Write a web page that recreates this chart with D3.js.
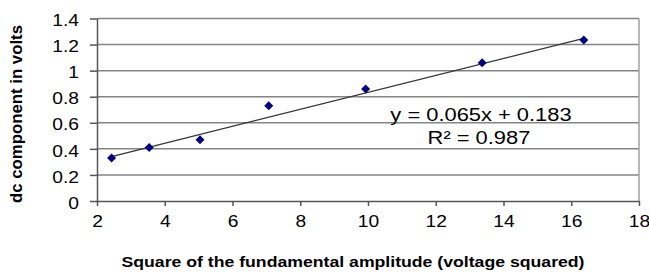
<!DOCTYPE html>
<html>
<head>
<meta charset="utf-8">
<script src="https://cdn.jsdelivr.net/npm/d3@7"></script>
<style>
  body { margin: 0; background: #fff; }
  text { font-family: Arial, "Liberation Sans", sans-serif; fill: #000; }
</style>
</head>
<body>
<div id="chart"></div>
<script>
// values
const xVals = [2.43, 3.54, 5.04, 7.07, 9.93, 13.37, 16.37];
const yVals = [0.33, 0.41, 0.47, 0.73, 0.86, 1.06, 1.235];
const xTicks = [2, 4, 6, 8, 10, 12, 14, 16, 18];
const yTicks = [0, 0.2, 0.4, 0.6, 0.8, 1, 1.2, 1.4];
const slope = 0.065, intercept = 0.183;
const eqText = "y = 0.065x + 0.183";
const r2Text = "R\u00B2 = 0.987";

let width = 649, height = 272;
let margin = { top: 18.5, right: 10, bottom: 71, left: 97 };

let svg = d3.select("#chart")
    .append("svg")
    .attr("width", width)
    .attr("height", height);

let x = d3.scaleLinear().domain([2, 18]).range([margin.left, width - margin.right]);
let y = d3.scaleLinear().domain([0, 1.4]).range([height - margin.bottom, margin.top]);

// the original picture is stretched sideways a bit, so stretch text too
function stretch(sel, k) {
    sel.each(function() {
        let w = this.getComputedTextLength();
        d3.select(this).attr("textLength", w * k).attr("lengthAdjust", "spacingAndGlyphs");
    });
}

// gridlines
svg.append("g")
   .selectAll("line")
   .data(yTicks.slice(1))
   .enter()
   .append("line")
   .attr("x1", x(2)).attr("x2", x(18))
   .attr("y1", d => y(d)).attr("y2", d => y(d))
   .attr("stroke", "#858585")
   .attr("stroke-width", 1.5);

// right border
svg.append("line")
   .attr("x1", x(18)).attr("x2", x(18))
   .attr("y1", y(1.4)).attr("y2", y(0))
   .attr("stroke", "#a0a0a0")
   .attr("stroke-width", 1.5);

// axes
let xAxis = svg.append("g")
   .attr("transform", "translate(0," + y(0) + ")")
   .call(d3.axisBottom(x).tickValues(xTicks).tickSize(5).tickSizeOuter(0).tickFormat(d3.format("d")));
let yAxis = svg.append("g")
   .attr("transform", "translate(" + x(2) + ",0)")
   .call(d3.axisLeft(y).tickValues(yTicks).tickSize(7).tickSizeOuter(0).tickFormat(d => d === 0 || d === 1 ? d : d3.format(".1f")(d)));

[xAxis, yAxis].forEach(a => {
    a.select(".domain").attr("stroke", "#555").attr("stroke-width", 1.5);
    a.selectAll(".tick line").attr("stroke", "#555").attr("stroke-width", 1.5);
    a.selectAll("text").attr("font-family", "Arial, 'Liberation Sans', sans-serif")
     .attr("font-size", 16).attr("fill", "#000");
});
xAxis.selectAll("text").attr("y", 0).attr("dy", 26);
yAxis.selectAll("text").attr("x", -18).attr("dy", "0.45em");
stretch(xAxis.selectAll("text"), 1.2);
stretch(yAxis.selectAll("text"), 1.2);

// trendline
let x0 = d3.min(xVals), x1 = d3.max(xVals);
svg.append("line")
   .attr("x1", x(x0)).attr("y1", y(slope * x0 + intercept))
   .attr("x2", x(x1)).attr("y2", y(slope * x1 + intercept))
   .attr("stroke", "#333")
   .attr("stroke-width", 1.2);

// points
svg.append("g")
   .selectAll("path")
   .data(xVals.map((d, i) => [d, yVals[i]]))
   .enter()
   .append("path")
   .attr("d", "M0,-4.5L4.5,0L0,4.5L-4.5,0Z")
   .attr("transform", d => "translate(" + x(d[0]) + "," + y(d[1]) + ")")
   .attr("fill", "#000080");

// equation labels
svg.append("text")
   .attr("x", 481).attr("y", 121)
   .attr("text-anchor", "middle")
   .attr("font-size", 17.5)
   .text(eqText)
   .call(stretch, 1.25);
svg.append("text")
   .attr("x", 479).attr("y", 144)
   .attr("text-anchor", "middle")
   .attr("font-size", 17.5)
   .text(r2Text)
   .call(stretch, 1.25);

// axis titles
svg.append("text")
   .attr("x", 353).attr("y", 267)
   .attr("text-anchor", "middle")
   .attr("font-size", 14)
   .attr("font-weight", "bold")
   .attr("textLength", 463)
   .attr("lengthAdjust", "spacingAndGlyphs")
   .text("Square of the fundamental  amplitude (voltage  squared)");

svg.append("text")
   .attr("transform", "translate(22,114) rotate(-90)")
   .attr("text-anchor", "middle")
   .attr("font-size", 16.5)
   .attr("font-weight", "bold")
   .attr("textLength", 178)
   .attr("lengthAdjust", "spacingAndGlyphs")
   .text("dc component in volts");
</script>
</body>
</html>
